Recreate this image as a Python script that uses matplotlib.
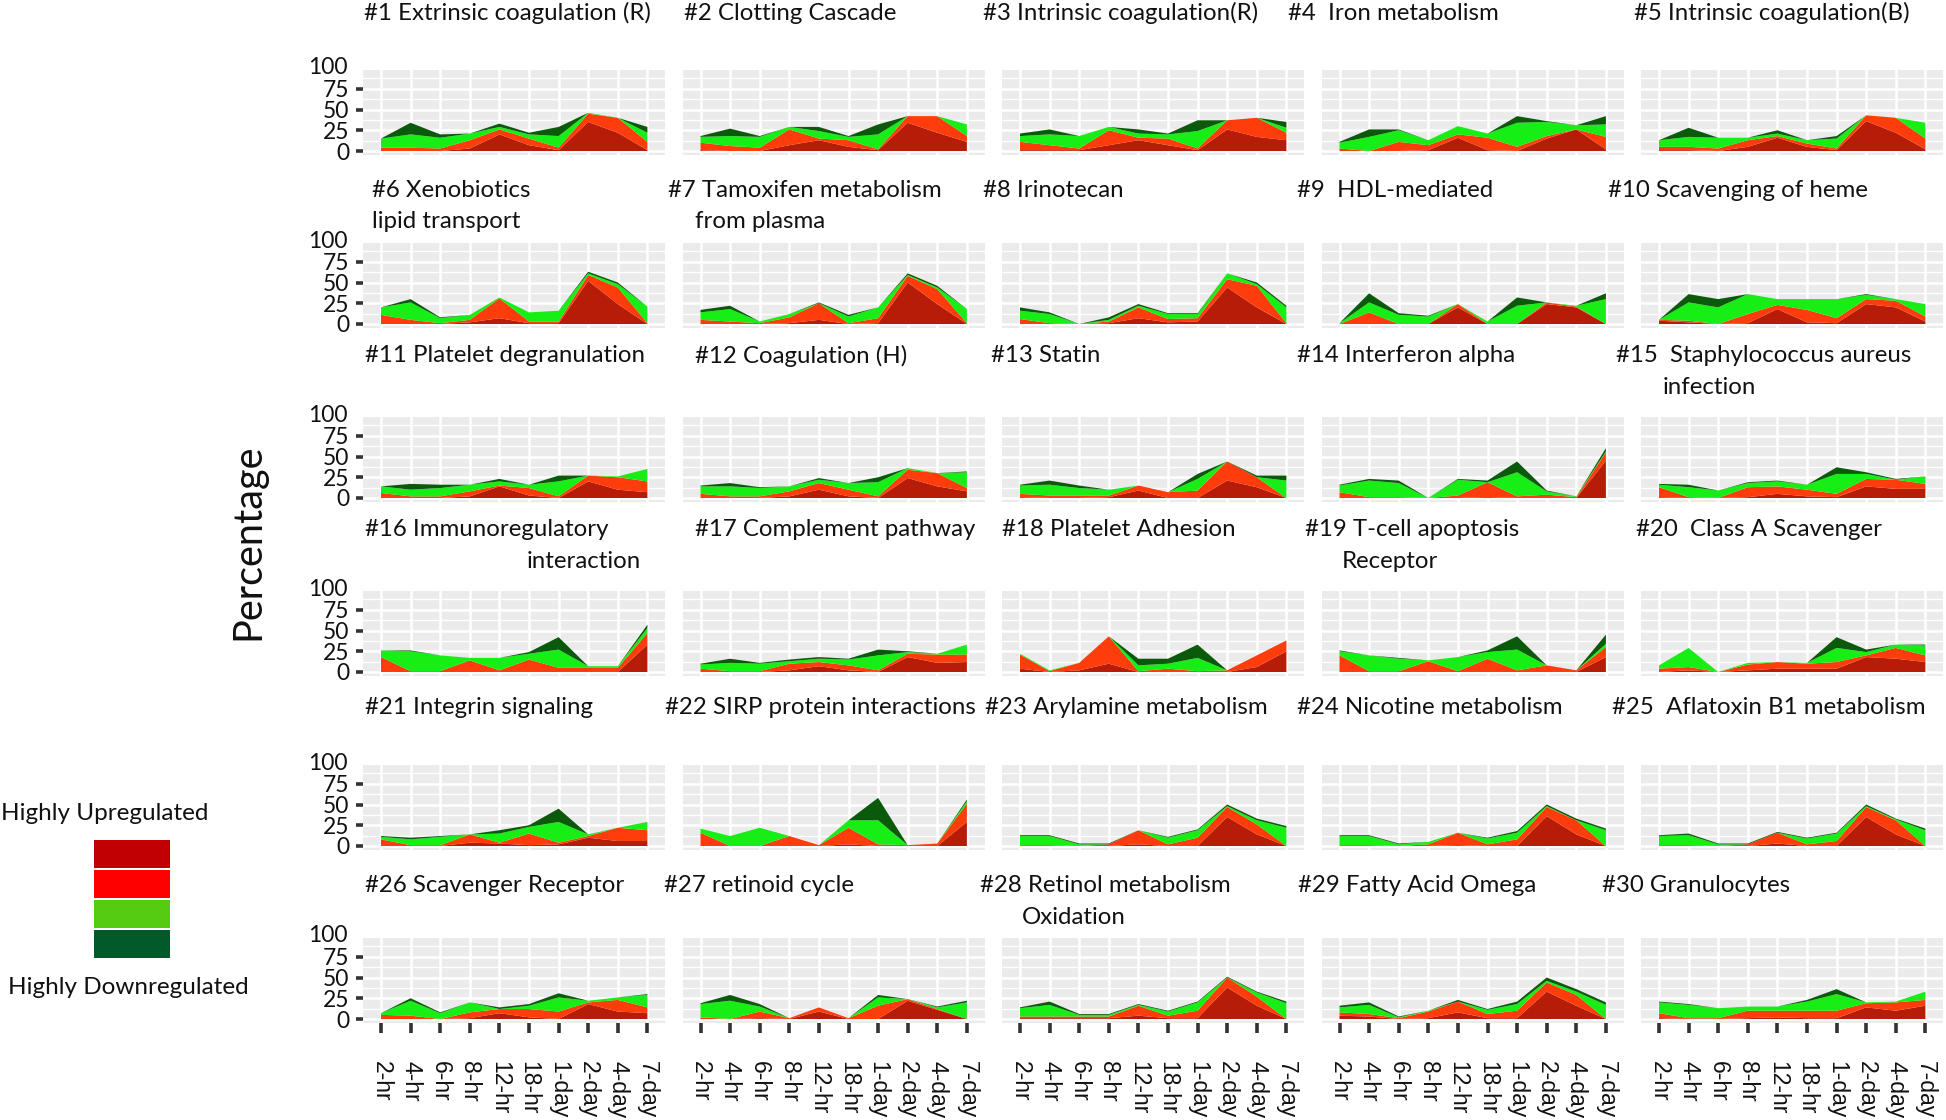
import matplotlib
matplotlib.use("Agg")
import matplotlib.pyplot as plt
from matplotlib.patches import Rectangle
import numpy as np

W, H = 1946, 1120

times = ["2-hr", "4-hr", "6-hr", "8-hr", "12-hr", "18-hr", "1-day", "2-day", "4-day", "7-day"]

titles = [
    "#1 Extrinsic coagulation (R)", "#2 Clotting Cascade", "#3 Intrinsic coagulation(R)",
    "#4  Iron metabolism", "#5 Intrinsic coagulation(B)",
    "#6 Xenobiotics", "#7 Tamoxifen metabolism", "#8 Irinotecan", "#9  HDL-mediated",
    "#10 Scavenging of heme",
    "#11 Platelet degranulation", "#12 Coagulation (H)", "#13 Statin", "#14 Interferon alpha",
    "#15  Staphylococcus aureus",
    "#16 Immunoregulatory", "#17 Complement pathway", "#18 Platelet Adhesion",
    "#19 T-cell apoptosis", "#20  Class A Scavenger",
    "#21 Integrin signaling", "#22 SIRP protein interactions", "#23 Arylamine metabolism",
    "#24 Nicotine metabolism", "#25  Aflatoxin B1 metabolism",
    "#26 Scavenger Receptor", "#27 retinoid cycle", "#28 Retinol metabolism",
    "#29 Fatty Acid Omega", "#30 Granulocytes",
]
title_second_lines = {
    5: "lipid transport", 6: "from plasma", 14: "infection",
    15: "interaction", 18: "Receptor", 27: "Oxidation",
}

# layer values (percent), stacked bottom -> top
highly_up = [
    [0,0,0,3,20,7,1,35,22,1], [1,0,0,7,13,5,1,34,22,11], [1,1,1,7,13,7,1,26,17,13],
    [0,0,0,1,16,1,0,15,26,2], [1,1,0,5,16,5,1,36,22,2],
    [0,0,0,2,7,1,1,52,24,0], [0,0,0,1,5,0,1,50,24,0], [0,0,0,1,7,2,3,44,20,0],
    [0,0,0,0,20,0,0,24,20,0], [4,2,0,1,18,2,1,24,20,3],
    [0,0,0,2,14,3,0,20,10,7], [0,0,0,2,10,2,0,24,14,8], [1,0,0,1,9,0,0,21,13,0],
    [0,0,0,0,0,1,0,0,0,45], [1,0,0,1,5,2,1,14,11,11],
    [0,0,0,0,0,0,0,0,0,33], [0,0,0,2,7,2,0,18,11,12], [4,0,2,10,0,0,0,0,6,25],
    [0,0,0,0,0,0,0,0,0,18], [0,2,0,2,4,4,4,18,16,12],
    [0,0,0,4,3,1,2,10,6,6], [0,0,0,0,0,2,0,0,0,29], [0,0,0,0,2,0,0,35,14,0],
    [0,0,0,0,1,0,0,36,14,0], [0,0,0,0,3,0,0,35,14,0],
    [0,0,0,1,7,2,0,18,9,7], [0,0,1,0,9,0,0,22,11,0], [1,1,1,1,4,1,1,38,16,0],
    [4,3,0,1,8,1,1,33,16,0], [1,0,0,1,2,1,1,14,10,16],
]
up = [
    [4,4,3,10,6,8,3,10,18,10], [9,6,4,19,2,8,1,8,20,7], [10,6,2,18,3,8,2,11,23,9],
    [3,0,11,6,4,15,5,3,0,15], [4,4,3,8,2,4,2,7,18,13],
    [11,5,1,3,24,2,2,7,20,1], [5,3,1,7,20,1,6,8,18,1], [6,1,0,2,13,4,4,10,26,1],
    [0,14,0,0,4,0,0,2,1,0], [1,2,0,11,5,15,6,6,8,6],
    [6,2,2,6,1,9,2,7,15,13], [5,2,2,6,8,8,2,10,16,4], [4,3,3,2,6,7,9,23,12,0],
    [7,1,1,0,3,18,2,4,1,10], [12,1,0,12,9,8,4,9,11,6],
    [18,1,1,14,2,15,5,5,5,14], [4,1,1,8,5,6,2,4,10,9], [17,1,9,33,1,4,1,2,14,13],
    [20,1,1,13,1,16,2,8,2,12], [4,4,0,7,8,6,8,2,13,8],
    [8,1,1,10,1,14,2,2,16,13], [16,0,0,12,1,20,2,1,3,22], [1,1,0,2,17,2,10,12,12,0],
    [1,1,0,2,15,2,8,11,17,0], [1,1,0,2,13,2,6,12,17,0],
    [5,4,0,7,5,10,9,2,14,7], [2,0,8,1,5,1,16,2,1,0], [2,2,2,2,12,3,9,12,11,0],
    [4,3,1,8,13,5,9,11,13,0], [6,1,1,9,8,9,9,5,10,7],
]
down = [
    [11,16,13,8,3,5,14,1,0,11], [7,12,13,3,9,4,18,0,0,14], [7,13,15,4,5,5,21,0,0,6],
    [7,17,14,6,10,5,29,17,5,15], [8,12,13,3,3,4,12,0,0,19],
    [9,21,6,6,1,11,13,2,4,20], [9,15,2,4,0,8,13,1,2,17], [10,11,0,2,2,6,5,7,2,19],
    [1,12,11,9,0,3,22,0,1,30], [0,22,20,24,7,13,23,5,2,15],
    [8,8,10,8,5,4,18,0,1,15], [9,12,10,6,4,8,17,2,0,19], [10,13,9,7,0,0,14,0,0,21],
    [8,20,17,0,19,0,29,4,1,1], [3,12,9,5,6,6,24,6,0,9],
    [8,24,19,3,15,7,22,2,2,6], [5,10,9,3,4,7,18,2,1,12], [1,1,0,0,7,6,16,0,0,0],
    [5,19,15,1,17,8,25,0,0,4], [4,23,0,2,0,1,17,4,4,12],
    [3,7,10,0,11,8,25,2,0,10], [5,12,22,0,0,9,29,0,0,3], [11,11,2,0,0,8,9,1,5,22],
    [11,11,2,3,0,7,8,1,0,19], [11,12,2,0,0,7,9,1,1,19],
    [2,18,7,12,0,4,17,2,3,15], [16,22,6,0,0,0,10,0,2,20], [10,14,2,2,1,5,10,0,5,19],
    [6,11,1,1,0,5,8,2,4,17], [13,16,12,5,5,11,20,1,1,10],
]
highly_down = [
    [0,14,4,0,4,2,11,0,0,7], [1,9,1,0,5,1,12,0,0,0], [3,6,0,0,5,1,13,0,0,7],
    [1,9,1,0,0,0,8,1,0,10], [0,11,0,0,4,0,3,0,0,0],
    [0,4,1,0,0,0,0,2,2,0], [3,4,0,0,1,2,0,2,2,0], [4,2,0,3,2,1,1,0,2,2],
    [0,11,2,1,0,0,10,0,0,7], [0,10,10,0,0,0,0,1,0,0],
    [0,7,4,0,3,0,7,0,0,0], [1,4,1,0,2,0,6,0,0,1], [1,5,3,0,0,0,6,0,2,6],
    [1,2,3,0,1,2,13,1,0,4], [1,3,0,1,1,0,8,2,1,0],
    [0,1,0,0,0,2,15,0,0,4], [1,5,1,2,2,1,7,1,0,0], [0,0,0,0,8,6,16,0,0,0],
    [1,0,1,0,0,2,16,0,0,11], [0,0,0,0,0,0,13,3,0,1],
    [1,2,1,0,4,2,16,0,0,0], [0,0,0,0,0,0,27,0,0,2], [1,1,1,1,0,1,1,2,2,2],
    [1,1,1,0,0,1,2,2,2,2], [1,2,1,1,1,1,1,2,1,2],
    [0,3,1,0,2,2,5,0,0,1], [1,7,3,0,0,0,3,0,1,2], [1,4,1,1,1,1,1,1,1,2],
    [2,3,1,0,2,1,3,4,3,3], [1,1,0,0,0,2,6,0,0,0],
]

legend_labels = ["Highly Upregulated", "Highly Downregulated"]

# ---- style / layout ----
area_colors = ["#B71C08", "#FF3C0C", "#16EE16", "#0B5A0B"]
legend_colors = ["#C00000", "#FF0000", "#55CC11", "#005A2A"]
FONT = "Lato"
TITLE_SIZE = 17.3
title_x = [364, 684, 983, 1288, 1634,
           372, 668, 983, 1297, 1608,
           365, 695, 991, 1297, 1616,
           365, 695, 1002, 1305, 1636,
           365, 665, 985, 1297, 1612,
           365, 664, 980, 1298, 1602]
second_x = {5: 372, 6: 695, 14: 1663, 15: 527, 18: 1342, 27: 1022}
title_y = [13, 190, 356, 529, 707, 886]
zero_y = [151, 324, 498, 672, 846, 1019]
first_x = 381.0
col_step = 319.5
xstep = 29.6
ppu = 0.83
ymin, ymax = -5, 98

fig = plt.figure(figsize=(W / 100, H / 100), dpi=100)
fig.patch.set_facecolor("white")

x = np.arange(len(times))
for i in range(30):
    r, c = divmod(i, 5)
    left_px = first_x + col_step * c - 0.6 * xstep
    width_px = 10.2 * xstep
    bottom_px = zero_y[r] - ymin * ppu
    top_px = zero_y[r] - ymax * ppu
    ax = fig.add_axes([left_px / W, 1 - bottom_px / H, width_px / W, (bottom_px - top_px) / H])
    ax.set_facecolor("#EBEBEB")
    ax.stackplot(x, highly_up[i], up[i], down[i], highly_down[i],
                 colors=area_colors, linewidth=0, zorder=3)
    ax.set_xlim(-0.6, 9.6)
    ax.set_ylim(ymin, ymax)
    ax.set_xticks(x)
    ax.set_yticks([0, 25, 50, 75])
    ax.set_yticks([12.5, 37.5, 62.5, 87.5], minor=True)
    ax.grid(which="major", color="white", lw=1.8, zorder=0)
    ax.grid(which="minor", axis="y", color="white", lw=1.0, zorder=0)
    ax.set_axisbelow(True)
    for s in ax.spines.values():
        s.set_visible(False)
    ax.tick_params(which="minor", length=0)
    if c == 0:
        ax.set_yticklabels(["0", "25", "50", "75"], fontfamily=FONT, fontsize=16.5, color="#111111")
        ax.tick_params(axis="y", which="major", length=5, width=2.6, color="#333333", pad=5)
        ax.text(-0.6 - 0.52, 100, "100", ha="right", va="center", fontfamily=FONT,
                fontsize=16.5, color="#111111", transform=ax.transData, clip_on=False)
    else:
        ax.tick_params(axis="y", which="major", left=False, labelleft=False)
    if r == 5:
        ax.set_xticklabels(times, rotation=-90, fontfamily="Liberation Sans", fontsize=16.5,
                           color="#111111", va="top", ha="center")
        ax.tick_params(axis="x", length=7, width=2.6, color="#333333", pad=20)
    else:
        ax.tick_params(axis="x", bottom=False, labelbottom=False)

    fig.text(title_x[i] / W, 1 - title_y[r] / H, titles[i], ha="left", va="center",
             fontfamily=FONT, fontsize=TITLE_SIZE, color="#111111")
    if i in title_second_lines:
        fig.text(second_x[i] / W, 1 - (title_y[r] + 32) / H, title_second_lines[i],
                 ha="left", va="center", fontfamily=FONT, fontsize=TITLE_SIZE, color="#111111")

fig.text(248 / W, 1 - 542 / H, "Percentage", rotation=90, ha="center", va="center",
         fontfamily=FONT, fontsize=28.5, color="#111111")

# legend
fig.text(105 / W, 1 - 814 / H, legend_labels[0], ha="center", va="center",
         fontfamily=FONT, fontsize=17.5, color="#111111")
fig.text(128 / W, 1 - 987 / H, legend_labels[1], ha="center", va="center",
         fontfamily=FONT, fontsize=17.5, color="#111111")
box_top = 840
for k, col in enumerate(legend_colors):
    y0 = box_top + k * 30
    fig.add_artist(Rectangle((94 / W, 1 - (y0 + 28) / H), 76 / W, 28 / H,
                             transform=fig.transFigure, facecolor=col, edgecolor="none"))

fig.savefig("out.png", dpi=100, facecolor="white")
